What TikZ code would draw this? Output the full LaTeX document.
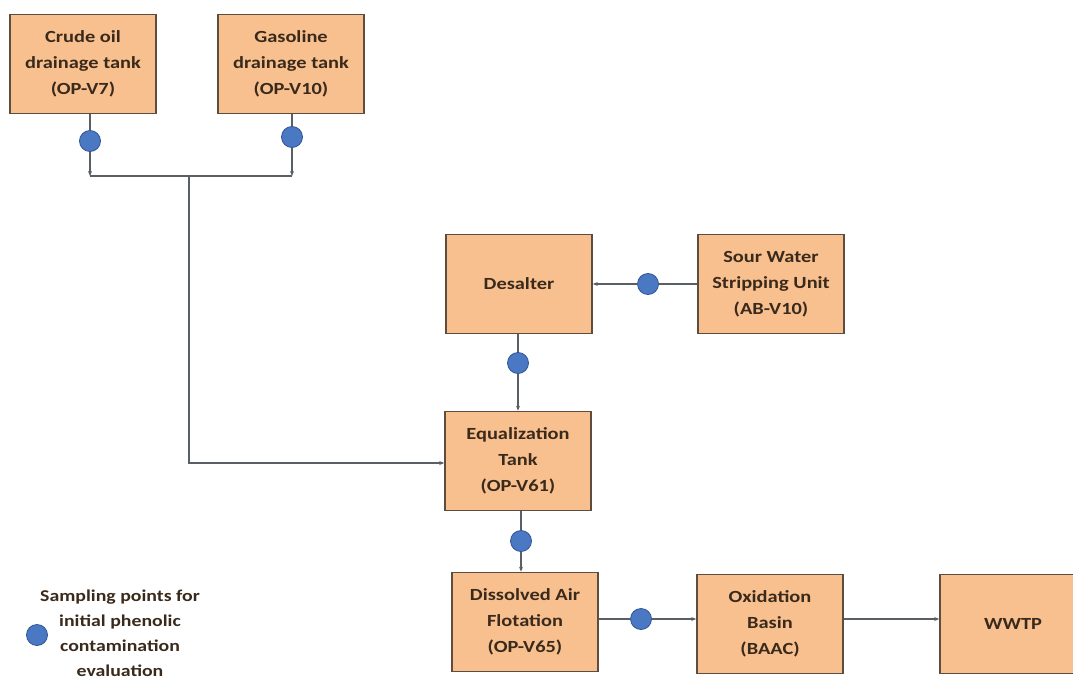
\documentclass[tikz,border=0pt]{standalone}
\usepackage{fontspec}
\setmainfont{Carlito}[FakeStretch=1.2]
\usetikzlibrary{arrows.meta,positioning}
\definecolor{boxfill}{HTML}{F9C08F}
\definecolor{boxline}{HTML}{5E4C3E}
\definecolor{boxtext}{HTML}{3A2A1C}
\definecolor{pipegray}{HTML}{5A5F66}
\definecolor{dotfill}{HTML}{4A78C2}
\definecolor{dotline}{HTML}{2F5597}

\begin{document}
\begin{tikzpicture}[x=1pt,y=-1pt,
  unit/.style={draw=boxline,fill=boxfill,line width=1.6pt,minimum width=146pt,minimum height=99pt,
    align=center,font=\bfseries\fontsize{17}{26}\selectfont,text=boxtext,inner sep=2pt},
  sample/.style={circle,draw=dotline,fill=dotfill,minimum size=21pt,inner sep=0pt,line width=0.8pt},
  pipe/.style={draw=pipegray,line width=1.4pt},
  flow/.style={pipe,-{Stealth[length=5pt,width=4pt]}}]
\useasboundingbox[fill=white] (0,0) rectangle (1073,690);

% Process units
\node[unit] (crude) at (83,64) {Crude oil\\drainage tank\\(OP-V7)};
\node[unit] (gasoline) at (291,64) {Gasoline\\drainage tank\\(OP-V10)};
\node[unit] (desalter) at (519,284) {Desalter};
\node[unit] (sour) at (771,284) {Sour Water\\Stripping Unit\\(AB-V10)};
\node[unit] (eq) at (518,461) {Equalization\\Tank\\(OP-V61)};
\node[unit] (daf) at (525,622) {Dissolved Air\\Flotation\\(OP-V65)};
\node[unit] (oxid) at (770,624) {Oxidation\\Basin\\(BAAC)};
\node[unit] (wwtp) at (1013,624) {WWTP};

% Sampling points
\node[sample] (s1) at (90,141) {};
\node[sample] (s2) at (292,137) {};
\node[sample] (s3) at (648,284) {};
\node[sample] (s4) at (518,363) {};
\node[sample] (s5) at (521,541) {};
\node[sample] (s6) at (641,619) {};

% Junction of the two drainage lines
\coordinate (j1) at (90,176);
\coordinate (j2) at (292,176);
\coordinate (jm) at (189,176);
\coordinate (jb) at (189,463);

% Connectors
\draw[pipe] (s1 |- crude.south) -- (s1);
\draw[flow] (s1) -- (j1);
\draw[pipe] (s2 |- gasoline.south) -- (s2);
\draw[flow] (s2) -- (j2);
\draw[pipe] (j1) -- (j2);
\draw[flow] (jm) -- (jb) -- (eq.west |- jb);
\draw[pipe] (sour.west) -- (s3);
\draw[flow] (s3) -- (desalter.east);
\draw[pipe] (desalter.south -| s4) -- (s4);
\draw[flow] (s4) -- (eq.north -| s4);
\draw[pipe] (eq.south -| s5) -- (s5);
\draw[flow] (s5) -- (daf.north -| s5);
\draw[pipe] (daf.east |- s6) -- (s6);
\draw[flow] (s6) -- (oxid.west |- s6);
\draw[flow] (oxid.east |- s6) -- (wwtp.west |- s6);

% Legend
\node[sample] (key) at (37,635) {};
\node[font=\bfseries\fontsize{16.5}{25}\selectfont,text=boxtext,align=center,anchor=north] (keytext)
  at (120,586) {Sampling points for\\initial phenolic\\contamination\\evaluation};
\end{tikzpicture}
\end{document}
